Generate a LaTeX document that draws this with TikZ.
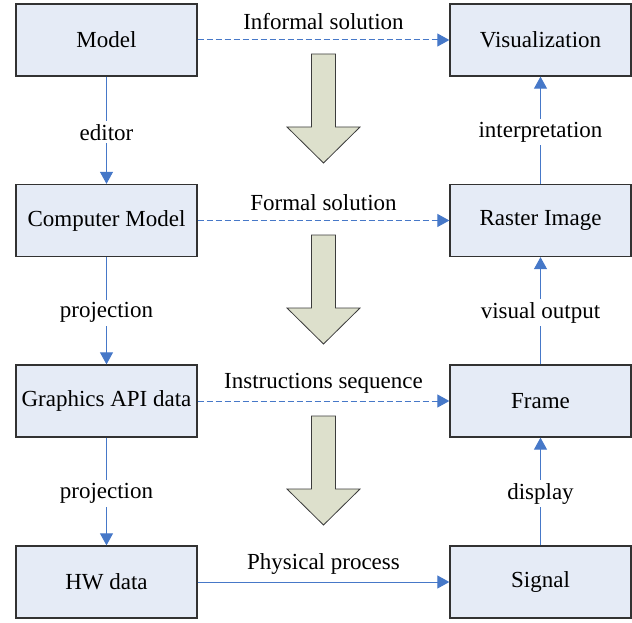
\documentclass[tikz,border=0pt]{standalone}
\usepackage{fontspec}
\setmainfont{Liberation Serif}
\newfontfamily\diagfont{Liberation Serif}
\usetikzlibrary{arrows.meta}
\definecolor{boxfill}{RGB}{229,235,246}
\definecolor{boxline}{RGB}{50,50,50}
\definecolor{linkblue}{RGB}{70,120,200}
\definecolor{bigfill}{RGB}{221,224,204}
\definecolor{bigline}{RGB}{60,60,60}
\begin{document}
\begin{tikzpicture}[x=1pt,y=-1pt,
  font=\diagfont\fontsize{23}{26}\selectfont,
  stage/.style={draw=boxline,line width=1.3pt,fill=boxfill,minimum width=181pt,minimum height=72pt,inner sep=0pt},
  link/.style={draw=linkblue,line width=1pt,-{Triangle[width=13pt,length=12pt]}},
  dashlink/.style={link,dash pattern=on 6pt off 3pt},
  vlabel/.style={fill=white,inner xsep=2pt,inner ysep=3pt,yshift=-2pt},
  hlabel/.style={inner sep=0pt},
  bigarrow/.style={draw=bigline,line width=0.8pt,fill=bigfill,line join=miter}]
\useasboundingbox (0,0) rectangle (632,623);

% left column
\node[stage] (model) at (106.5,40) {Model};
\node[stage] (cmodel) at (106.5,220.5) {Computer Model};
\node[stage] (api) at (106.5,401) {Graphics API data};
\node[stage] (hw) at (106.5,582) {HW data};
% right column
\node[stage] (vis) at (540.5,40) {Visualization};
\node[stage] (raster) at (540.5,220.5) {Raster Image};
\node[stage] (frame) at (540.5,401) {Frame};
\node[stage] (signal) at (540.5,582) {Signal};

% downward chain on the left
\draw[link] (model) -- node[vlabel] {editor} (cmodel);
\draw[link] (cmodel) -- node[vlabel] {projection} (api);
\draw[link] (api) -- node[vlabel] {projection} (hw);
% upward chain on the right
\draw[link] (signal) -- node[vlabel] {display} (frame);
\draw[link] (frame) -- node[vlabel] {visual output} (raster);
\draw[link] (raster) -- node[vlabel] {interpretation} (vis);

% horizontal links
\draw[dashlink] (model) -- (vis);
\draw[dashlink] (cmodel) -- (raster);
\draw[dashlink] (api) -- (frame);
\draw[link] (hw) -- (signal);
\node[hlabel] (l1) at (323.5,22) {Informal solution};
\node[hlabel] (l2) at (323.5,203) {Formal solution};
\node[hlabel] (l3) at (323.5,383.5) {Instructions sequence};
\node[hlabel] (l4) at (323.5,564) {Physical process};

% broad downward arrows between the rows
\foreach \t in {54,235,416}{
  \draw[bigarrow] (311.5,\t) -- (335.5,\t) -- (335.5,\t+73) -- (360,\t+73)
    -- (323.5,\t+109) -- (287,\t+73) -- (311.5,\t+73) -- cycle;
}
\end{tikzpicture}
\end{document}
